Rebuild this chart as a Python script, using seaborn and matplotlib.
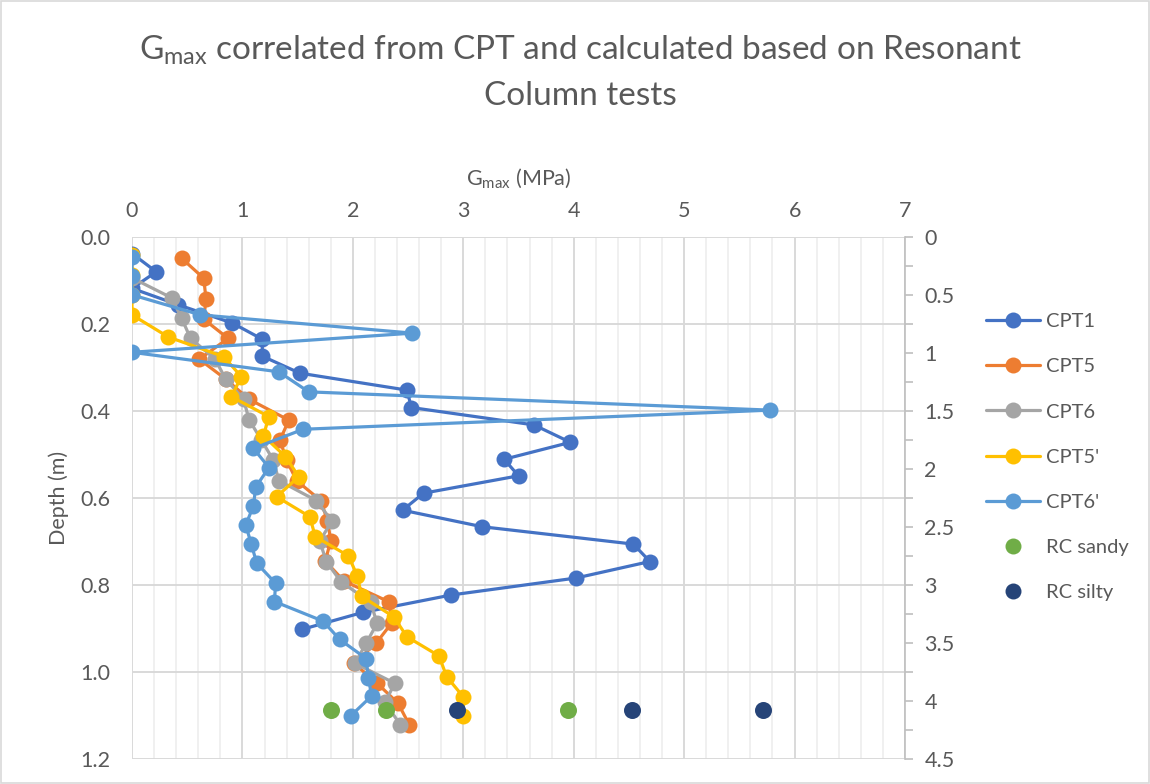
import matplotlib
matplotlib.use("Agg")
import matplotlib.pyplot as plt
import seaborn as sns
import pandas as pd
from matplotlib.ticker import MultipleLocator, FormatStrFormatter, FuncFormatter
from matplotlib.lines import Line2D
from matplotlib.patches import Rectangle

# ---------------- data ----------------
cpt1_depth = [0.038, 0.080, 0.118, 0.156, 0.198, 0.235, 0.274, 0.313, 0.352, 0.392, 0.432, 0.472,
              0.511, 0.549, 0.589, 0.628, 0.666, 0.706, 0.746, 0.784, 0.823, 0.863, 0.902]
cpt1_gmax = [0.00, 0.22, 0.00, 0.42, 0.91, 1.18, 1.18, 1.52, 2.49, 2.53, 3.64, 3.97,
             3.37, 3.50, 2.64, 2.45, 3.17, 4.54, 4.69, 4.02, 2.89, 2.09, 1.54]

cpt5_depth = [0.049, 0.095, 0.143, 0.189, 0.233, 0.281, 0.327, 0.373, 0.421, 0.467, 0.513, 0.560,
              0.606, 0.652, 0.698, 0.745, 0.791, 0.839, 0.888, 0.934, 0.980, 1.026, 1.072, 1.121]
cpt5_gmax = [0.45, 0.65, 0.67, 0.65, 0.87, 0.61, 0.85, 1.06, 1.42, 1.34, 1.40, 1.49,
             1.71, 1.77, 1.80, 1.75, 1.92, 2.33, 2.35, 2.21, 2.01, 2.22, 2.41, 2.51]

cpt6_depth = [0.094, 0.140, 0.187, 0.233, 0.280, 0.327, 0.373, 0.420, 0.466, 0.513, 0.560,
              0.606, 0.653, 0.699, 0.746, 0.792, 0.840, 0.888, 0.934, 0.980, 1.026, 1.070, 1.121]
cpt6_gmax = [0.00, 0.36, 0.45, 0.53, 0.75, 0.85, 1.01, 1.06, 1.17, 1.28, 1.33,
             1.67, 1.81, 1.70, 1.76, 1.89, 2.16, 2.22, 2.12, 2.02, 2.38, 2.29, 2.43]

cpt5p_depth = [0.041, 0.087, 0.133, 0.179, 0.230, 0.275, 0.321, 0.367, 0.413, 0.457, 0.505, 0.551,
               0.597, 0.643, 0.689, 0.733, 0.779, 0.826, 0.873, 0.919, 0.963, 1.011, 1.057, 1.101]
cpt5p_gmax = [0.00, 0.00, 0.00, 0.00, 0.33, 0.83, 0.99, 0.90, 1.24, 1.19, 1.39, 1.51,
              1.31, 1.61, 1.66, 1.96, 2.04, 2.08, 2.37, 2.49, 2.78, 2.85, 3.00, 3.00]

cpt6p_depth = [0.045, 0.089, 0.133, 0.179, 0.221, 0.265, 0.310, 0.356, 0.398, 0.442, 0.486, 0.530,
               0.575, 0.618, 0.662, 0.706, 0.750, 0.796, 0.838, 0.883, 0.925, 0.969, 1.013, 1.055, 1.101]
cpt6p_gmax = [0.00, 0.00, 0.00, 0.62, 2.54, 0.00, 1.33, 1.60, 5.78, 1.55, 1.10, 1.24,
              1.12, 1.10, 1.03, 1.08, 1.13, 1.30, 1.29, 1.73, 1.88, 2.12, 2.14, 2.17, 1.98]

rc_sandy_depth = [1.087, 1.087, 1.087]
rc_sandy_gmax = [1.80, 2.30, 3.95]
rc_silty_depth = [1.087, 1.087, 1.087]
rc_silty_gmax = [2.94, 4.53, 5.71]

line_series = ["CPT1", "CPT5", "CPT6", "CPT5'", "CPT6'"]
point_series = ["RC sandy", "RC silty"]
colors = {"CPT1": "#4472C4", "CPT5": "#ED7D31", "CPT6": "#A5A5A5", "CPT5'": "#FFC000",
          "CPT6'": "#5B9BD5", "RC sandy": "#70AD47", "RC silty": "#264478"}

line_data = {
    "CPT1": (cpt1_gmax, cpt1_depth),
    "CPT5": (cpt5_gmax, cpt5_depth),
    "CPT6": (cpt6_gmax, cpt6_depth),
    "CPT5'": (cpt5p_gmax, cpt5p_depth),
    "CPT6'": (cpt6p_gmax, cpt6p_depth),
}
point_data = {
    "RC sandy": (rc_sandy_gmax, rc_sandy_depth),
    "RC silty": (rc_silty_gmax, rc_silty_depth),
}

# ---------------- style ----------------
sns.set_theme(style="white")
plt.rcParams["font.family"] = ["Lato", "DejaVu Sans"]
plt.rcParams["mathtext.fontset"] = "custom"
plt.rcParams["mathtext.rm"] = "Lato"
plt.rcParams["mathtext.it"] = "Lato:italic"
TXT = "#595959"
TICK_FS = 15.5

fig = plt.figure(figsize=(11.5, 7.84), dpi=100)
ax = fig.add_axes([132 / 1150, 1 - 759 / 784, (905 - 132) / 1150, (759 - 237) / 784])

for name in line_series:
    gx, dy = line_data[name]
    df = pd.DataFrame({"gmax": gx, "depth": dy})
    sns.lineplot(data=df, x="gmax", y="depth", sort=False, estimator=None, ax=ax,
                 color=colors[name], linewidth=2.3, marker="o", markersize=11.5,
                 markeredgewidth=0, legend=False, zorder=3)

for name in point_series:
    gx, dy = point_data[name]
    df = pd.DataFrame({"gmax": gx, "depth": dy})
    sns.scatterplot(data=df, x="gmax", y="depth", ax=ax, color=colors[name],
                    s=150, linewidth=0, legend=False, zorder=4)

ax.set_xlim(0, 7)
ax.set_ylim(1.2, 0)
ax.xaxis.tick_top()
ax.xaxis.set_label_position("top")
ax.xaxis.set_major_locator(MultipleLocator(1))
ax.xaxis.set_minor_locator(MultipleLocator(0.2))
ax.yaxis.set_major_locator(MultipleLocator(0.2))
ax.yaxis.set_major_formatter(FormatStrFormatter("%.1f"))

ax.grid(True, which="major", axis="both", color="#D9D9D9", linewidth=1.4, zorder=0)
ax.grid(True, which="minor", axis="x", color="#F0F0F0", linewidth=1.4, zorder=0)
ax.set_axisbelow(True)
for s in ax.spines.values():
    s.set_visible(False)

ax.tick_params(axis="x", which="both", length=0, pad=11.5, labelsize=TICK_FS, labelcolor=TXT)
ax.tick_params(axis="y", which="both", length=0, pad=15.5, labelsize=TICK_FS, labelcolor=TXT)
ax.set_xlabel(r"G$_{\mathrm{max}}$ (MPa)", fontsize=15.5, color=TXT, labelpad=12)
ax.set_ylabel("Depth (m)", fontsize=15.5, color=TXT, labelpad=8)

ax2 = ax.twinx()
ax2.set_ylim(4.5, 0)
ax2.yaxis.set_major_locator(MultipleLocator(0.5))
ax2.yaxis.set_minor_locator(MultipleLocator(0.25))
ax2.yaxis.set_major_formatter(FuncFormatter(lambda v, p: f"{v:g}"))
for k, s in ax2.spines.items():
    s.set_visible(k == "right")
ax2.spines["right"].set_color("#BFBFBF")
ax2.spines["right"].set_linewidth(1.2)
ax2.tick_params(axis="y", which="both", direction="out", length=6, width=1.2,
                color="#BFBFBF", pad=8, labelsize=TICK_FS, labelcolor=TXT)

# title
fig.text(0.505, 0.936, r"G$_{\mathrm{max}}$ correlated from CPT and calculated based on Resonant",
         ha="center", va="center", fontsize=24, color=TXT)
fig.text(0.505, 0.878, "Column tests", ha="center", va="center", fontsize=24, color=TXT)

# legend
handles = []
for name in line_series:
    handles.append(Line2D([0], [0], color=colors[name], lw=2.3, marker="o", markersize=11.5,
                          markeredgewidth=0, label=name))
for name in point_series:
    handles.append(Line2D([0], [0], color=colors[name], lw=0, marker="o", markersize=11.5,
                          markeredgewidth=0, label=name))
leg = fig.legend(handles=handles, loc="center left", bbox_to_anchor=(0.850, 0.417),
                 frameon=False, fontsize=14.5, labelspacing=1.39, handlelength=2.7,
                 handletextpad=0.3, borderaxespad=0)
for t in leg.get_texts():
    t.set_color(TXT)

fig.patches.append(Rectangle((0.001, 0.001), 0.998, 0.998, transform=fig.transFigure,
                             fill=False, edgecolor="#D9D9D9", linewidth=1.2))

fig.savefig("out.png", dpi=100, facecolor="white")
